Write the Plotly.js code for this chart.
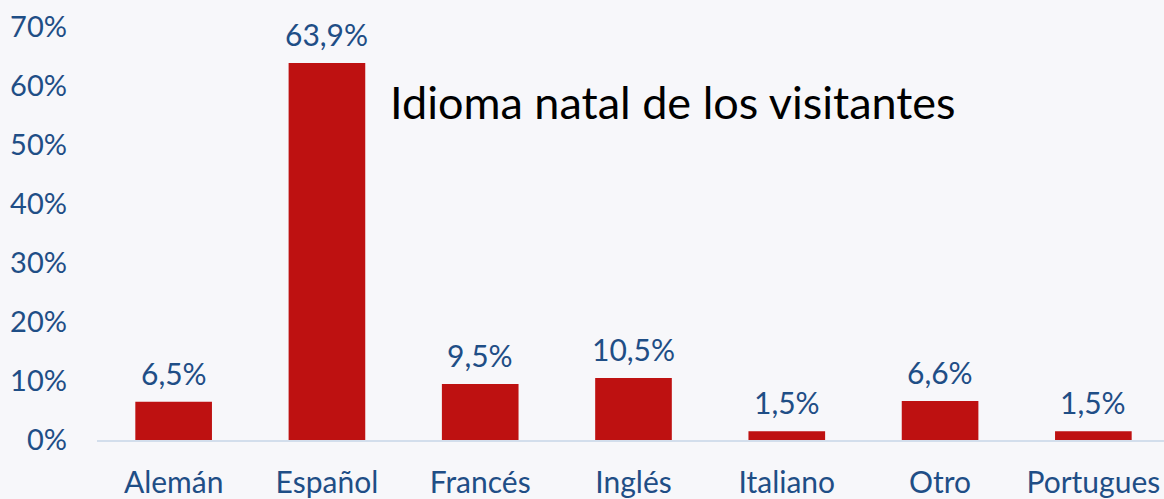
<!DOCTYPE html>
<html><head><meta charset="utf-8">
<script src="https://cdn.plot.ly/plotly-3.0.1.min.js"></script>
<style>html,body{margin:0;padding:0;overflow:hidden;background:#f7f7fa;}#chart{width:1170px;height:499px;}</style>
</head><body><div id="chart"></div>
<script>
const categories = ["Alemán","Español","Francés","Inglés","Italiano","Otro","Portugues"];
const values = [0.065, 0.639, 0.095, 0.105, 0.015, 0.066, 0.015];
const labels = ["6,5%","63,9%","9,5%","10,5%","1,5%","6,6%","1,5%"];
const yTicks = [0,0.1,0.2,0.3,0.4,0.5,0.6,0.7];
const titleText = "Idioma natal de los visitantes";

const blue = "#1f4e86";
const font = "Lato, 'Open Sans', sans-serif";

const trace = {
  type: "bar", x: categories, y: values,
  marker: {color: "#be1111"},
  hoverinfo: "x+y"
};
const annotations = categories.map((c,i)=>({
  x: c, y: values[i], xref: "x", yref: "y", text: labels[i],
  showarrow: false, yanchor: "bottom", yshift: 9,
  font: {family: font, size: 30, color: blue}
}));
const layout = {
  width: 1170, height: 499,
  margin: {l: 97, r: 0, t: 27, b: 59},
  paper_bgcolor: "#f7f7fa", plot_bgcolor: "#f7f7fa",
  bargap: 0.5,
  separators: ",.",
  showlegend: false,
  title: {text: titleText, font: {family: font, size: 45, color: "#000"},
          xref: "container", yref: "container", x: 390/1170, xanchor: "left",
          y: 1 - 103/499, yanchor: "middle"},
  xaxis: {type: "category", showgrid: false, zeroline: false, showline: true,
          linecolor: "#d3deec", linewidth: 2, ticks: "",
          tickfont: {family: font, size: 30, color: blue}, ticklabelstandoff: 15},
  yaxis: {range: [0, 0.7], tickvals: yTicks, tickformat: ".0%", showgrid: false,
          zeroline: false, showline: false, ticks: "",
          tickfont: {family: font, size: 29, color: blue}, ticklabelstandoff: 29},
  annotations: annotations
};
Plotly.newPlot("chart", [trace], layout, {displayModeBar: false, staticPlot: true});
</script></body></html>
